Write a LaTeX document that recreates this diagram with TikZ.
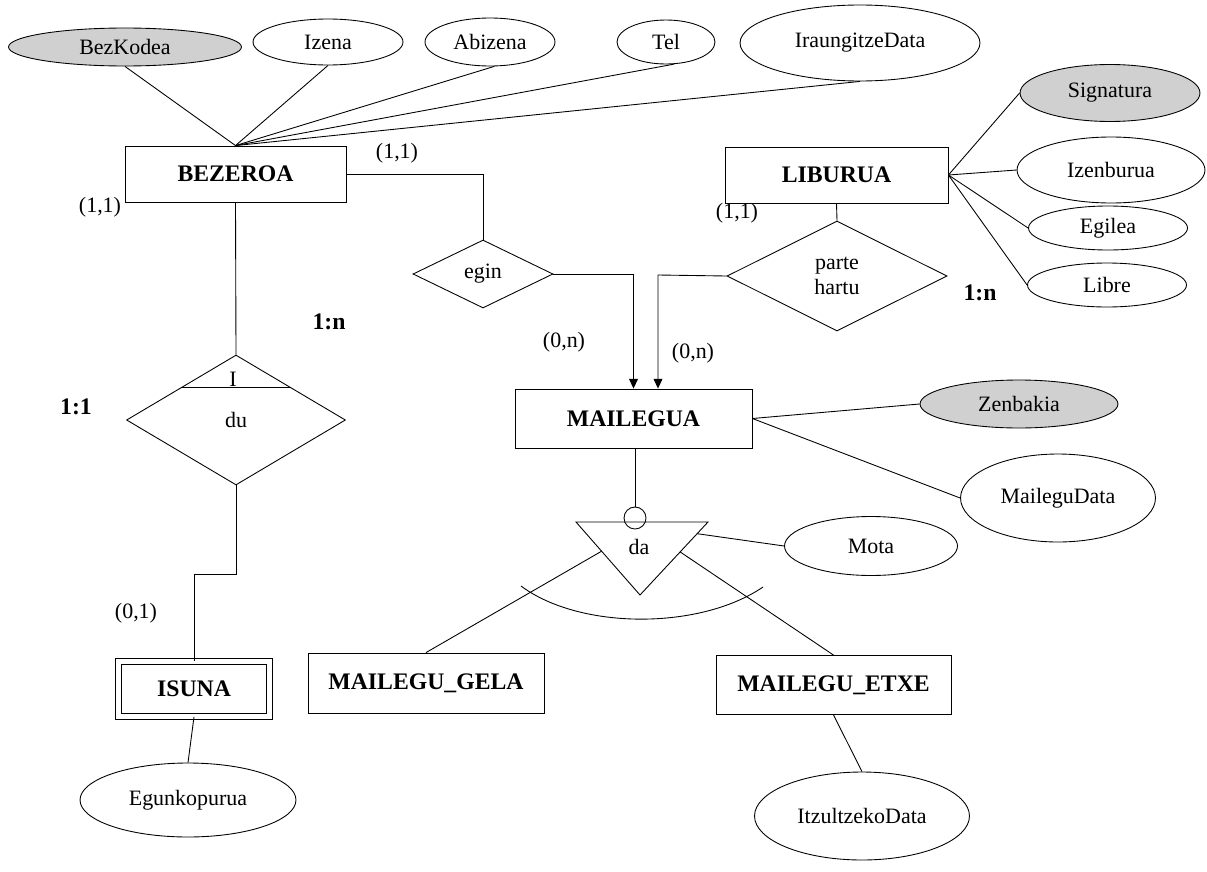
\documentclass[tikz,border=0pt]{standalone}
\usepackage{fontspec}
\setmainfont{Liberation Serif}
\usepackage{tikz}
\definecolor{keygray}{RGB}{208,208,208}
\usetikzlibrary{shapes.geometric,arrows.meta,calc}
\def\txt{\fontsize{12.5}{14}\selectfont}
\def\btxt{\fontsize{13.5}{15}\selectfont\bfseries}
\newcommand{\entity}[6]{\node[draw,rectangle,minimum width=#4cm,minimum height=#5cm,inner sep=0pt,font=\btxt] (#1) at (#2,#3) {#6};}
\newcommand{\attrib}[6]{\node[draw,ellipse,minimum width=#4cm,minimum height=#5cm,inner sep=0pt,font=\txt] (#1) at (#2,#3) {#6};}
\newcommand{\keyattrib}[6]{\node[draw,ellipse,fill=keygray,minimum width=#4cm,minimum height=#5cm,inner sep=0pt,font=\txt] (#1) at (#2,#3) {#6};}
\newcommand{\relation}[6]{\node[draw,diamond,aspect=2,minimum width=#4cm,minimum height=#5cm,inner sep=0pt,align=center,font=\txt] (#1) at (#2,#3) {#6};}

\begin{document}
\begin{tikzpicture}[x=0.02cm,y=-0.02cm,line width=0.5pt,>={Triangle[length=5.5pt,width=5pt]}]
\useasboundingbox (0,0) rectangle (1207,872);

\entity{BEZEROA}{235.5}{174}{4.42}{1.12}{BEZEROA}
\entity{LIBURUA}{836.5}{175}{4.46}{1.12}{LIBURUA}
\entity{MAILEGUA}{633.5}{418.5}{4.74}{1.18}{MAILEGUA}
\entity{GELA}{426}{683}{4.72}{1.2}{MAILEGU\_GELA}
\entity{ETXE}{833.5}{685}{4.7}{1.18}{MAILEGU\_ETXE}
\node[draw,double,double distance=2.5pt,minimum width=3.02cm,minimum height=1.1cm,inner sep=0pt,font=\btxt] (ISUNA) at (194,689) {ISUNA};

\keyattrib{BezKodea}{125}{47}{4.66}{0.76}{BezKodea}
\attrib{Izena}{328}{42}{3.0}{0.92}{Izena}
\attrib{Abizena}{490}{42}{2.6}{0.96}{Abizena}
\attrib{Tel}{666}{42}{1.96}{0.88}{Tel}
\attrib{Iraungitze}{860}{43}{4.8}{1.52}{IraungitzeData}
\keyattrib{Signatura}{1110}{93}{3.6}{1.14}{Signatura}
\attrib{Izenburua}{1111}{170}{3.76}{1.32}{Izenburua}
\attrib{Egilea}{1108}{228}{3.18}{0.88}{Egilea}
\attrib{Libre}{1107}{285}{3.18}{0.88}{Libre}
\keyattrib{Zenbakia}{1019}{404}{3.96}{0.96}{Zenbakia}
\attrib{MaileguData}{1058}{498}{3.9}{1.76}{MaileguData}
\attrib{Mota}{871}{546}{3.46}{1.18}{Mota}
\attrib{Itzultzeko}{862}{816}{4.3}{1.76}{ItzultzekoData}
\attrib{Egunkopurua}{188}{800}{4.32}{1.48}{Egunkopurua}

\relation{egin}{483}{274}{2.8}{1.36}{egin}
\relation{parte}{837}{276}{4.4}{2.2}{parte\\hartu}
\relation{du}{236}{420}{4.38}{2.6}{du}

% specialisation triangle
\coordinate (daL) at (576,522);
\coordinate (daR) at (708,522);
\coordinate (daB) at (640,595);
\draw (daL) -- (daR) -- (daB) -- cycle;
\node[font=\txt] (da) at (639,547) {da};
\node[draw,circle,minimum size=0.44cm,inner sep=0pt] (daring) at (635,518) {};
\draw (521,586) .. controls (580,630) and (700,630) .. (763,587);

% weak relation mark
\draw ($(du.north)!0.5!(du.west)$) -- ($(du.north)!0.5!(du.east)$);
\node[font=\txt,anchor=base,inner sep=0pt] (duI) at (233,386) {I};

\node[font=\txt] (c1) at (100,207) {(1,1)};
\node[font=\txt] (c2) at (397,153) {(1,1)};
\node[font=\txt] (c3) at (737,213) {(1,1)};
\node[font=\txt] (c4) at (564,342) {(0,n)};
\node[font=\txt] (c5) at (693,353) {(0,n)};
\node[font=\txt] (c6) at (136,613) {(0,1)};
\node[font=\btxt] (r1) at (329,322) {1:n};
\node[font=\btxt] (r2) at (980,293) {1:n};
\node[font=\btxt] (r3) at (76,407) {1:1};

\draw (BEZEROA.north) -- (BezKodea.south);
\draw (BEZEROA.north) -- (Izena.south);
\draw (BEZEROA.north) -- (Abizena.-80);
\draw (BEZEROA.north) -- (Tel.-70);
\draw (BEZEROA.north) -- (Iraungitze.south);

\draw (LIBURUA.east) -- (Signatura.west);
\draw (LIBURUA.east) -- (Izenburua.west);
\draw (LIBURUA.east) -- (Egilea.west);
\draw (LIBURUA.east) -- (Libre.west);

\draw (MAILEGUA.east) -- (Zenbakia.west);
\draw (MAILEGUA.east) -- (MaileguData.west);

\draw (BEZEROA.east) -| (egin.north);
\draw[->] (egin.east) -| (MAILEGUA.north);
\draw (LIBURUA.south) -- (parte.north);
\coordinate (pbend) at (658,275);
\draw[->] (parte.west) -- (pbend) -- (pbend |- MAILEGUA.north);

\draw (BEZEROA.south) -- (du.north);
\draw (du.south) -- ++(0,89) -| (ISUNA.north);
\draw (ISUNA.south) -- (Egunkopurua.north);

\draw (MAILEGUA.south -| daring.north) -- (daring.north);
\draw ($(daL)!0.4!(daB)$) -- (GELA.north);
\draw ($(daR)!0.41!(daB)$) -- (ETXE.north);
\draw ($(daR)!0.16!(daB)$) -- (Mota.west);
\draw (ETXE.south) -- (Itzultzeko.north);
\end{tikzpicture}
\end{document}
